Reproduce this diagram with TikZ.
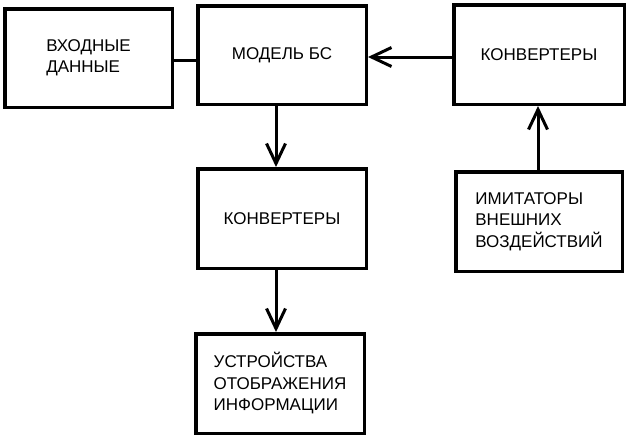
\documentclass[tikz,border=0pt]{standalone}
\usepackage{fontspec}
\setmainfont{Liberation Sans}
\usetikzlibrary{arrows.meta}
\tikzset{
  blk/.style={draw=black, line width=3.5pt, fill=white, align=left,
    font=\fontsize{17}{21.5}\selectfont, inner sep=0pt},
  conn/.style={draw=black, line width=3pt},
  arr/.style={conn, -{Straight Barb[length=20pt,width=19pt,line width=3pt]}}
}
\begin{document}
\begin{tikzpicture}[x=1pt,y=-1pt]
\useasboundingbox[fill=white] (0,0) rectangle (631,439);
\node[blk, minimum width=167.5pt, minimum height=98.5pt] (in)  at (88.5,58)  {ВХОДНЫЕ\\ДАННЫЕ};
\node[blk, minimum width=168.5pt, minimum height=98.5pt] (mod) at (282,55)   {МОДЕЛЬ БС};
\node[blk, minimum width=170.5pt, minimum height=99.5pt] (kv1) at (539,54.5) {КОНВЕРТЕРЫ};
\node[blk, minimum width=168.5pt, minimum height=99.5pt] (kv2) at (282,218.5) {КОНВЕРТЕРЫ};
\node[blk, minimum width=168.5pt, minimum height=99.5pt] (out) at (280,383.5) {УСТРОЙСТВА\\ОТОБРАЖЕНИЯ\\ИНФОРМАЦИИ};
\node[blk, minimum width=166.5pt, minimum height=99.5pt] (imi) at (539,221.5) {ИМИТАТОРЫ\\ВНЕШНИХ\\ВОЗДЕЙСТВИЙ};
\draw[conn] ([yshift=-2pt]in.east) -- ([yshift=-2pt]in.east -| mod.west);
\draw[arr] ([yshift=-2.5pt]kv1.west) -- ([yshift=-2.5pt]kv1.west -| mod.east);
\draw[arr] ([xshift=-6pt]mod.south) -- ([xshift=-6pt]mod.south |- kv2.north);
\draw[arr] ([xshift=-6pt]kv2.south) -- ([xshift=-6pt]kv2.south |- out.north);
\draw[arr] ([xshift=-1pt]imi.north) -- ([xshift=-1pt]imi.north |- kv1.south);
\end{tikzpicture}
\end{document}
